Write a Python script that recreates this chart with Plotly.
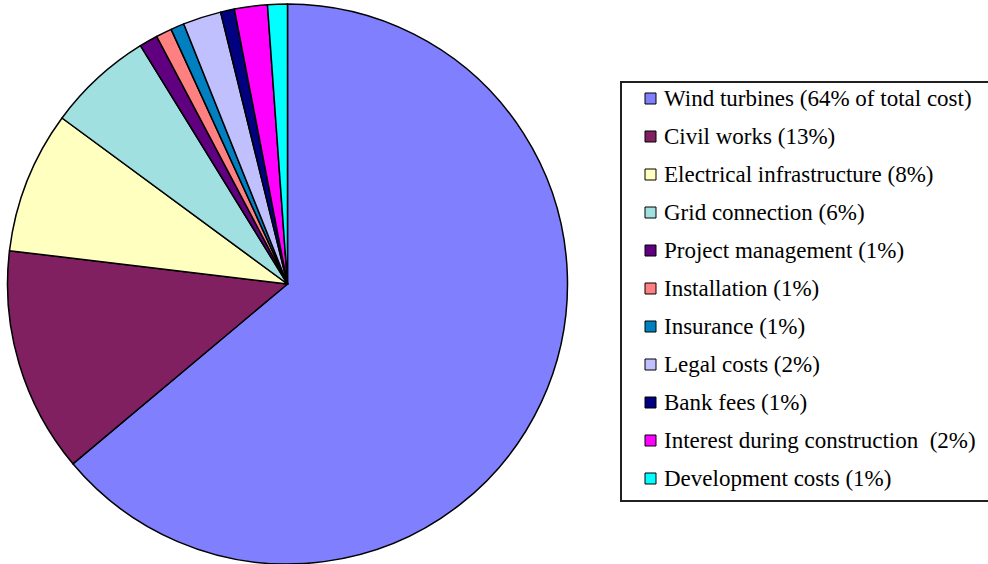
import plotly.graph_objects as go

# ---- data ----
labels = [
    "Wind turbines (64% of total cost)",
    "Civil works (13%)",
    "Electrical infrastructure (8%)",
    "Grid connection (6%)",
    "Project management (1%)",
    "Installation (1%)",
    "Insurance (1%)",
    "Legal costs (2%)",
    "Bank fees (1%)",
    "Interest during construction  (2%)",
    "Development costs (1%)",
]
values = [63.9, 13.0, 8.2, 6.1, 1.06, 0.92, 0.78, 2.2, 0.8, 1.9, 1.14]
colors = [
    "#8080FF", "#802060", "#FFFFC0", "#A0E0E0", "#600080", "#FF8080",
    "#0080C0", "#C0C0FF", "#000080", "#FF00FF", "#00FFFF",
]

W, H = 988, 564
FONT = "Liberation Serif"


def px(x):
    return x / W


def py(y):
    return 1 - y / H


# pie geometry in pixels
cx, cy, r = 287.5, 284, 280

fig = go.Figure(
    go.Pie(
        labels=labels,
        values=values,
        marker=dict(colors=colors, line=dict(color="#000000", width=1.5)),
        sort=False,
        direction="clockwise",
        rotation=0,
        textinfo="none",
        hoverinfo="label+percent",
        showlegend=False,
        domain=dict(x=[px(cx - r), px(cx + r)], y=[py(cy + r), py(cy - r)]),
    )
)

# ---- manual legend (box, colour squares and labels) ----
shapes = [
    dict(type="rect", xref="paper", yref="paper",
         x0=px(621), x1=px(992), y0=py(501), y1=py(82),
         line=dict(color="#202020", width=2), fillcolor="rgba(0,0,0,0)")
]
annotations = []
row0, step = 98.5, 38.0
for i, (lab, col) in enumerate(zip(labels, colors)):
    yc = row0 + i * step
    shapes.append(dict(type="rect", xref="paper", yref="paper",
                       x0=px(645), x1=px(656), y0=py(yc + 5.5), y1=py(yc - 5.5),
                       line=dict(color="#000000", width=1), fillcolor=col))
    annotations.append(dict(xref="paper", yref="paper", x=px(662), y=py(yc),
                            xanchor="left", yanchor="middle", showarrow=False,
                            text=lab.replace("  ", " \u00a0"),
                            font=dict(family=FONT, size=23, color="#000000")))

fig.update_layout(
    width=W, height=H,
    margin=dict(l=0, r=0, t=0, b=0),
    paper_bgcolor="#FFFFFF",
    plot_bgcolor="#FFFFFF",
    font=dict(family=FONT),
    shapes=shapes,
    annotations=annotations,
    showlegend=False,
)

fig.write_html("out.html")
